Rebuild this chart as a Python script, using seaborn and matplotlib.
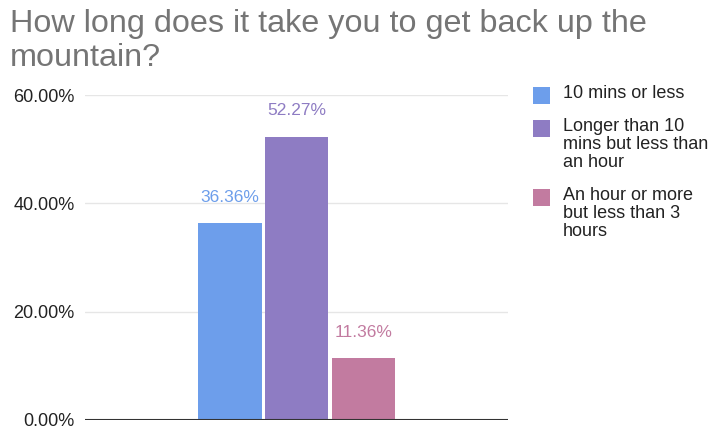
import matplotlib
matplotlib.use("Agg")
import matplotlib.pyplot as plt
from matplotlib.patches import Rectangle
import seaborn as sns
import pandas as pd

# Survey responses: share of riders per time bucket
categories = [
    "10 mins or less",
    "Longer than 10 mins but less than an hour",
    "An hour or more but less than 3 hours",
]
legend_labels = [
    "10 mins or less",
    "Longer than 10\nmins but less than\nan hour",
    "An hour or more\nbut less than 3\nhours",
]
shares = [36.36, 52.27, 11.36]
colors = ["#6d9eeb", "#8e7cc3", "#c27ba0"]
y_ticks = [0, 20, 40, 60]
y_tick_labels = ["0.00%", "20.00%", "40.00%", "60.00%"]
title = "How long does it take you to get back up the\nmountain?"

sns.set_theme(style="white")
plt.rcParams["font.family"] = ["Liberation Sans", "DejaVu Sans"]

W, H = 711, 428
fig = plt.figure(figsize=(W / 100, H / 100), dpi=100)
ax = fig.add_axes([85 / W, 1 - 420 / H, (508 - 85) / W, (420 - 95) / H])

df = pd.DataFrame({"group": [""] * len(categories), "answer": categories, "share": shares})
sns.barplot(
    data=df, x="group", y="share", hue="answer", hue_order=categories,
    palette=colors, width=0.8, gap=0.05, legend=False, ax=ax,
    edgecolor="none", saturation=1,
)

ax.set_xlim(-0.846, 0.846)
ax.set_ylim(0, 60)
ax.set_xlabel("")
ax.set_ylabel("")
ax.set_xticks([])
ax.set_yticks(y_ticks)
ax.set_yticklabels(y_tick_labels, fontsize=13, color="#222222")
ax.tick_params(axis="y", length=0, pad=7.5)
for s in ax.spines.values():
    s.set_visible(False)
ax.grid(axis="y", color="#e6e6e6", linewidth=1)
ax.set_axisbelow(True)
ax.axhline(0, color="#333333", linewidth=1.5, zorder=5)

# value labels above each bar, coloured like the bar
for patch, val, col in zip(ax.patches, shares, colors):
    cx = patch.get_x() + patch.get_width() / 2
    ax.annotate(f"{val:.2f}%", (cx, patch.get_height()), xytext=(0, 15.5),
                textcoords="offset points", ha="center", va="baseline",
                fontsize=12.5, color=col, annotation_clip=False)

fig.text(10 / W, 1 - 9 / H, title, fontsize=23.3, color="#757575",
         ha="left", va="top", linespacing=1.16)

# legend drawn as swatches with wrapped labels
entry_tops = [87, 120, 189]
for top, lab, col in zip(entry_tops, legend_labels, colors):
    fig.patches.append(Rectangle((533 / W, 1 - (top + 17) / H), 17 / W, 17 / H,
                                 transform=fig.transFigure, facecolor=col,
                                 edgecolor="none"))
    fig.text(563 / W, 1 - (top - 2) / H, lab, fontsize=13, color="#222222",
             ha="left", va="top", linespacing=1.08)

fig.savefig("out.png", dpi=100)
